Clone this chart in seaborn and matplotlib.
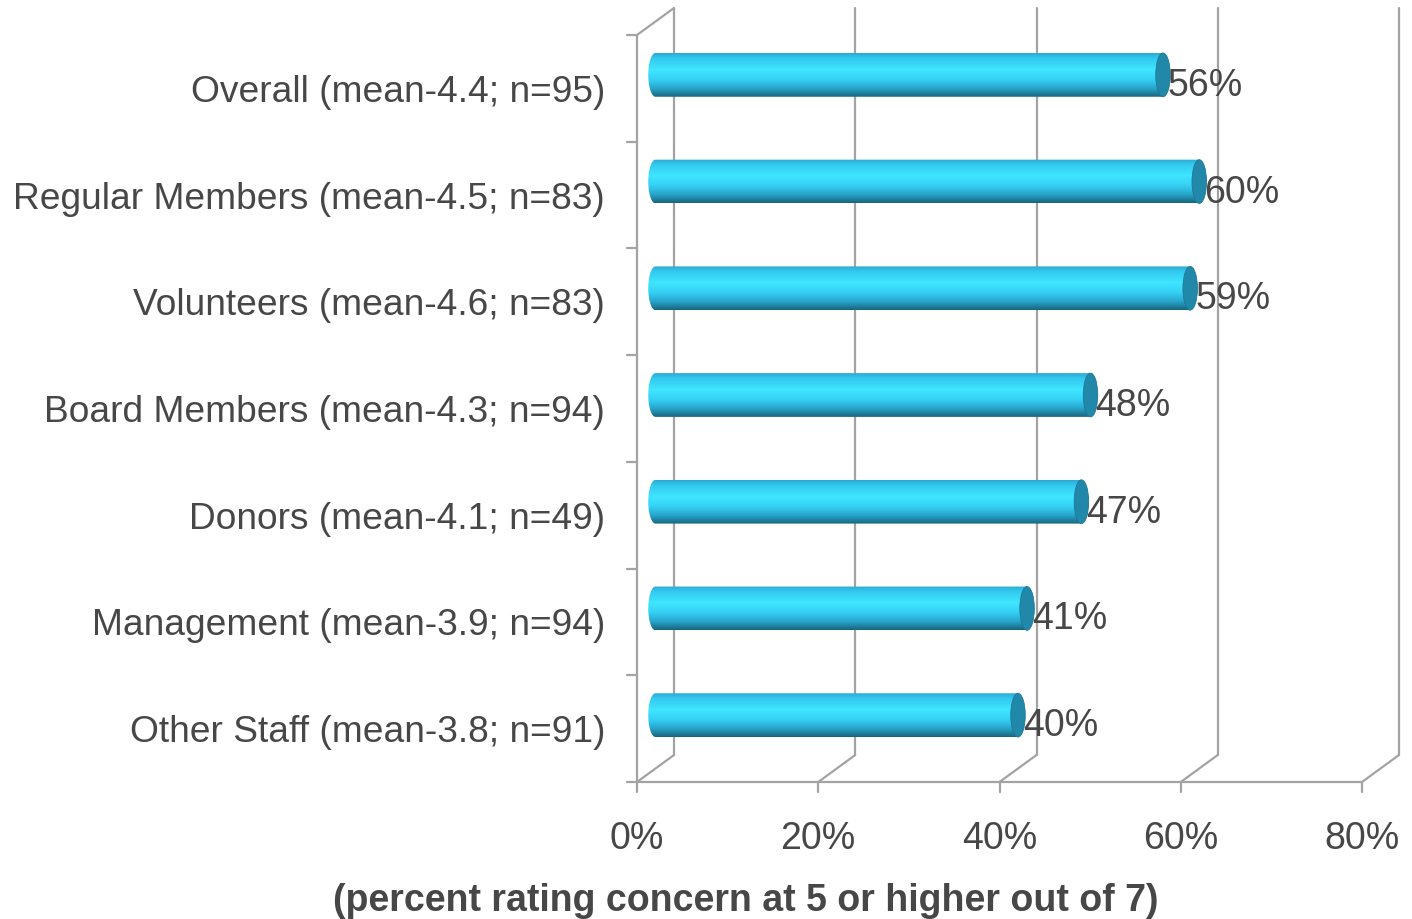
import numpy as np
import matplotlib
matplotlib.use("Agg")
import matplotlib.pyplot as plt
import matplotlib.transforms as mtransforms
from matplotlib.path import Path
from matplotlib.patches import PathPatch, Ellipse
from matplotlib.colors import LinearSegmentedColormap
import seaborn as sns

# ---- data ----
categories = [
    "Overall (mean-4.4; n=95)",
    "Regular Members (mean-4.5; n=83)",
    "Volunteers (mean-4.6; n=83)",
    "Board Members (mean-4.3; n=94)",
    "Donors (mean-4.1; n=49)",
    "Management (mean-3.9; n=94)",
    "Other Staff (mean-3.8; n=91)",
]
values = [56, 60, 59, 48, 47, 41, 40]
x_ticks = [0, 20, 40, 60, 80]
x_tick_labels = ["0%", "20%", "40%", "60%", "80%"]
x_title = "(percent rating concern at 5 or higher out of 7)"

sns.set_theme(style="white")
plt.rcParams["font.family"] = ["Liberation Sans", "DejaVu Sans"]

TEXT = "#474747"
GRID = "#a3a3a3"
FS = 27
FS_CAT = 26.7
DPI = 100
W, H = 1412, 920

fig = plt.figure(figsize=(W / DPI, H / DPI), dpi=DPI)
# front plane of the 3-D box, in pixels
L, R, T, B = 637, 1362, 36, 783
ax = fig.add_axes([L / W, 1 - B / H, (R - L) / W, (B - T) / H])

sns.barplot(x=values, y=categories, orient="h", ax=ax, width=0.41,
            color="#3fe4ff", zorder=3)
ymin, ymax = -0.5, len(categories) - 0.5
ax.set_xlim(0, 80)
ax.set_ylim(ymax, ymin)
for s in ax.spines.values():
    s.set_visible(False)
ax.set_xticks([])
ax.set_yticks([])
ax.set_xlabel("")
ax.set_ylabel("")
ax.patch.set_alpha(0)

# depth offset of the box (back plane) and of the bars (mid depth)
DX, DY = 37, 27
back = ax.transData + mtransforms.ScaledTranslation(DX / DPI, DY / DPI, fig.dpi_scale_trans)
mid = ax.transData + mtransforms.ScaledTranslation(DX / 2 / DPI, DY / 2 / DPI, fig.dpi_scale_trans)

lw = 1.6
# back-wall gridlines
for xv in x_ticks:
    ax.plot([xv, xv], [ymin, ymax], color=GRID, lw=lw, transform=back, clip_on=False, zorder=1)
# floor diagonals from each front tick to the back plane
for xv in x_ticks:
    x0, y0 = ax.transData.transform((xv, ymax))
    fig.add_artist(plt.Line2D([x0 / W, (x0 + DX) / W], [y0 / H, (y0 + DY) / H], color=GRID,
                              lw=lw, transform=fig.transFigure, zorder=1))
# top diagonal of the left wall
x0, y0 = ax.transData.transform((0, ymin))
fig.add_artist(plt.Line2D([x0 / W, (x0 + DX) / W], [y0 / H, (y0 + DY) / H], color=GRID,
                          lw=lw, transform=fig.transFigure, zorder=1))
# front axis lines
ax.plot([0, 0], [ymin, ymax], color=GRID, lw=lw, clip_on=False, zorder=1)
ax.plot([0, 80], [ymax, ymax], color=GRID, lw=lw, clip_on=False, zorder=1)
# tick marks
tick_px = 10
for i in range(len(categories) + 1):
    px, py = ax.transData.transform((0, ymin + i))
    fig.add_artist(plt.Line2D([(px - tick_px) / W, px / W], [py / H, py / H],
                              color=GRID, lw=lw, transform=fig.transFigure))
for xv in x_ticks:
    px, py = ax.transData.transform((xv, ymax))
    fig.add_artist(plt.Line2D([px / W, px / W], [py / H, (py - tick_px) / H],
                              color=GRID, lw=lw, transform=fig.transFigure))

# cylinder shading
grad_cmap = LinearSegmentedColormap.from_list(
    "cyl", [(0.0, "#2aa9d2"), (0.12, "#33c8ef"), (0.38, "#3fe6ff"),
            (0.6, "#36d0f5"), (0.8, "#28a6cc"), (1.0, "#17647c")])
grad = np.linspace(0, 1, 256).reshape(-1, 1)
cap_w = 1.6  # cap ellipse width, in x data units

for patch, v in zip(ax.patches, values):
    yc = patch.get_y() + patch.get_height() / 2
    h = patch.get_height()
    patch.set_visible(False)
    top, bot = yc - h / 2, yc + h / 2
    # body outline: rectangle with a rounded left end
    verts = [(0, top), (v, top), (v, bot), (0, bot)]
    t = np.linspace(-np.pi / 2, -3 * np.pi / 2, 40)
    verts += list(zip(cap_w / 2 * np.cos(t), yc - h / 2 * np.sin(t)))
    verts.append((0, top))
    clip = PathPatch(Path(verts, closed=True), transform=mid,
                     facecolor="none", edgecolor="none")
    ax.add_patch(clip)
    im = ax.imshow(grad, cmap=grad_cmap, aspect="auto", origin="upper",
                   extent=(-cap_w, v, bot, top), transform=mid, zorder=3,
                   interpolation="bilinear")
    im.set_clip_path(clip)
    cap = Ellipse((v, yc), cap_w, h, transform=mid, facecolor="#2288a9",
                  edgecolor="#1d7896", lw=0.6, zorder=4)
    ax.add_patch(cap)
    ax.annotate(f"{v}%", xy=(v, yc), xycoords=mid, xytext=(5, -10),
                textcoords="offset pixels", ha="left", va="center",
                fontsize=FS, color=TEXT, zorder=5)

ax.set_xlim(0, 80)
ax.set_ylim(ymax, ymin)

# category labels
for i, c in enumerate(categories):
    px, py = ax.transData.transform((0, i))
    fig.text((px - 32) / W, (py - 3) / H, c, ha="right", va="center", fontsize=FS_CAT, color=TEXT)
# x tick labels
for xv, lab in zip(x_ticks, x_tick_labels):
    px, py = ax.transData.transform((xv, ymax))
    fig.text(px / W, (py - 56) / H, lab, ha="center", va="center", fontsize=FS, color=TEXT)
fig.text(746 / W, 1 - 901 / H, x_title, ha="center", va="center", fontsize=FS,
         fontweight="bold", color=TEXT)

fig.savefig("out.png", dpi=DPI)
